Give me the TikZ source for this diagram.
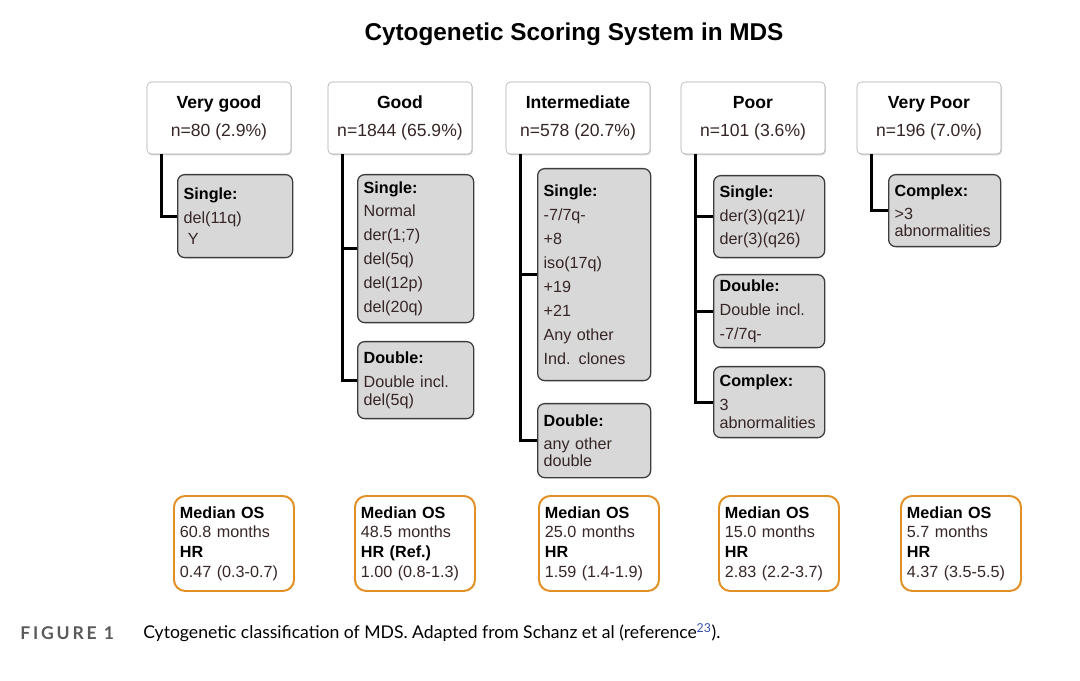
\documentclass[tikz,border=0pt]{standalone}
\usepackage{fontspec}
\setmainfont{Liberation Sans}
\newfontfamily\capfont{Lato}
\newfontfamily\caplabelfont{Lato}[LetterSpace=16]
\usetikzlibrary{shadows}
\definecolor{boxgray}{RGB}{216,216,216}
\definecolor{edgegray}{RGB}{60,60,60}
\definecolor{hdredge}{RGB}{170,170,170}
\definecolor{osorange}{RGB}{226,144,36}
\definecolor{valtext}{RGB}{55,38,38}
\definecolor{capgray}{RGB}{90,90,90}
\definecolor{refblue}{RGB}{50,80,170}
\newcommand{\boxhead}[1]{\textbf{\textcolor{black}{#1}}}

\begin{document}
\begin{tikzpicture}[
    hdr/.style={rectangle, draw=hdredge, fill=white, rounded corners=3pt, minimum width=3.6cm, minimum height=1.8cm, align=center, text=valtext, font=\fontsize{12.5}{20}\selectfont, drop shadow={shadow xshift=0.7pt, shadow yshift=-0.9pt, opacity=0.3}},
    gbox/.style={rectangle, draw=edgegray, fill=boxgray, line width=0.9pt, rounded corners=5pt, anchor=north west, align=left, inner xsep=0.15cm, inner ysep=3pt, text=valtext, font=\fontsize{11.5}{17}\selectfont},
    osbox/.style={rectangle, draw=osorange, line width=1.4pt, rounded corners=8pt, anchor=north west, minimum height=2.375cm, align=left, inner xsep=0.15cm, text width=2.7cm, text=valtext, font=\fontsize{11.5}{14}\selectfont},
    link/.style={line width=2pt}]
    \path[fill=white, use as bounding box] (0, 0) rectangle (27, 17);

    % Titolo
    \node (title) at (14.35, 16.15) {\fontsize{17.3}{20}\selectfont\bfseries Cytogenetic Scoring System in MDS};

    % Intestazioni dei gruppi
    \node (hvg) at (5.475, 14.05) [hdr] {\boxhead{Very good}\\ n=80 (2.9\%)};
    \node (hg) at (10.0, 14.05) [hdr] {\boxhead{Good}\\ n=1844 (65.9\%)};
    \node (hi) at (14.45, 14.05) [hdr] {\boxhead{Intermediate}\\ n=578 (20.7\%)};
    \node (hp) at (18.825, 14.05) [hdr] {\boxhead{Poor}\\ n=101 (3.6\%)};
    \node (hvp) at (23.225, 14.05) [hdr] {\boxhead{Very Poor}\\ n=196 (7.0\%)};

    % Anomalie citogenetiche (riquadri grigi)
    \node (vg1) at (4.425, 12.65) [gbox, text width=2.575cm, minimum height=2.075cm] {\boxhead{Single:}\\ del(11q)\\[-2pt] \hspace{3pt}Y};
    \node (g1) at (8.925, 12.65) [gbox, text width=2.6cm, minimum height=3.7cm] {\boxhead{Single:}\\ Normal\\ der(1;7)\\ del(5q)\\ del(12p)\\ del(20q)};
    \node (g2) at (8.925, 8.475) [gbox, text width=2.6cm, minimum height=1.925cm] {\boxhead{Double:}\\ Double incl.\\[-4pt] del(5q)};
    \node (i1) at (13.425, 12.8) [gbox, text width=2.525cm, minimum height=5.3cm] {\boxhead{Single:}\\ -7/7q-\\ +8\\ iso(17q)\\ +19\\ +21\\ Any other\\ Ind. clones};
    \node (i2) at (13.425, 6.925) [gbox, text width=2.525cm, minimum height=1.85cm] {\boxhead{Double:}\\ any other\\[-5pt] double};
    \node (p1) at (17.825, 12.625) [gbox, text width=2.475cm, minimum height=2.05cm] {\boxhead{Single:}\\ der(3)(q21)/\\[-1pt] der(3)(q26)};
    \node (p2) at (17.825, 10.15) [gbox, text width=2.475cm, minimum height=1.825cm] {\boxhead{Double:}\\ Double incl.\\ -7/7q-};
    \node (p3) at (17.825, 7.85) [gbox, text width=2.475cm, minimum height=1.775cm] {\boxhead{Complex:}\\ 3\\[-4pt] abnormalities};
    \node (vp1) at (22.2, 12.65) [gbox, text width=2.5cm, minimum height=1.8cm] {\boxhead{Complex:}\\ >3\\[-5pt] abnormalities};

    % Sopravvivenza (riquadri arancioni)
    \node (os1) at (4.325, 4.625) [osbox] {\boxhead{Median OS}\\ 60.8 months\\ \boxhead{HR}\\ 0.47 (0.3-0.7)};
    \node (os2) at (8.85, 4.625) [osbox] {\boxhead{Median OS}\\ 48.5 months\\ \boxhead{HR (Ref.)}\\ 1.00 (0.8-1.3)};
    \node (os3) at (13.45, 4.625) [osbox] {\boxhead{Median OS}\\ 25.0 months\\ \boxhead{HR}\\ 1.59 (1.4-1.9)};
    \node (os4) at (17.95, 4.625) [osbox] {\boxhead{Median OS}\\ 15.0 months\\ \boxhead{HR}\\ 2.83 (2.2-3.7)};
    \node (os5) at (22.5, 4.625) [osbox] {\boxhead{Median OS}\\ 5.7 months\\ \boxhead{HR}\\ 4.37 (3.5-5.5)};

    % Collegamenti
    \coordinate (svg) at ([xshift=0.375cm]hvg.south west);
    \coordinate (sg) at ([xshift=0.375cm]hg.south west);
    \coordinate (si) at ([xshift=0.375cm]hi.south west);
    \coordinate (sp) at ([xshift=0.375cm]hp.south west);
    \coordinate (svp) at ([xshift=0.375cm]hvp.south west);
    \draw[link] (svg) |- (vg1.west);
    \draw[link] (sg) |- (g1.west);
    \draw[link] (sg) |- (g2.west);
    \draw[link] (si) |- (i1.west);
    \draw[link] (si) |- (i2.west);
    \draw[link] (sp) |- (p1.west);
    \draw[link] (sp) |- (p2.west);
    \draw[link] (sp) |- (p3.west);
    \draw[link] (svp) |- (vp1.west);

    % Didascalia
    \node (figlabel) at (0.5, 1.175) [anchor=west, inner xsep=0pt, text=capgray] {\fontsize{12.5}{15}\caplabelfont\bfseries FIGURE 1};
    \node (figtext) at (3.575, 1.175) [anchor=west, inner xsep=0pt] {\fontsize{12.5}{15}\capfont Cytogenetic classification of MDS. Adapted from Schanz et al (reference\textsuperscript{\textcolor{refblue}{23}}).};
\end{tikzpicture}
\end{document}
